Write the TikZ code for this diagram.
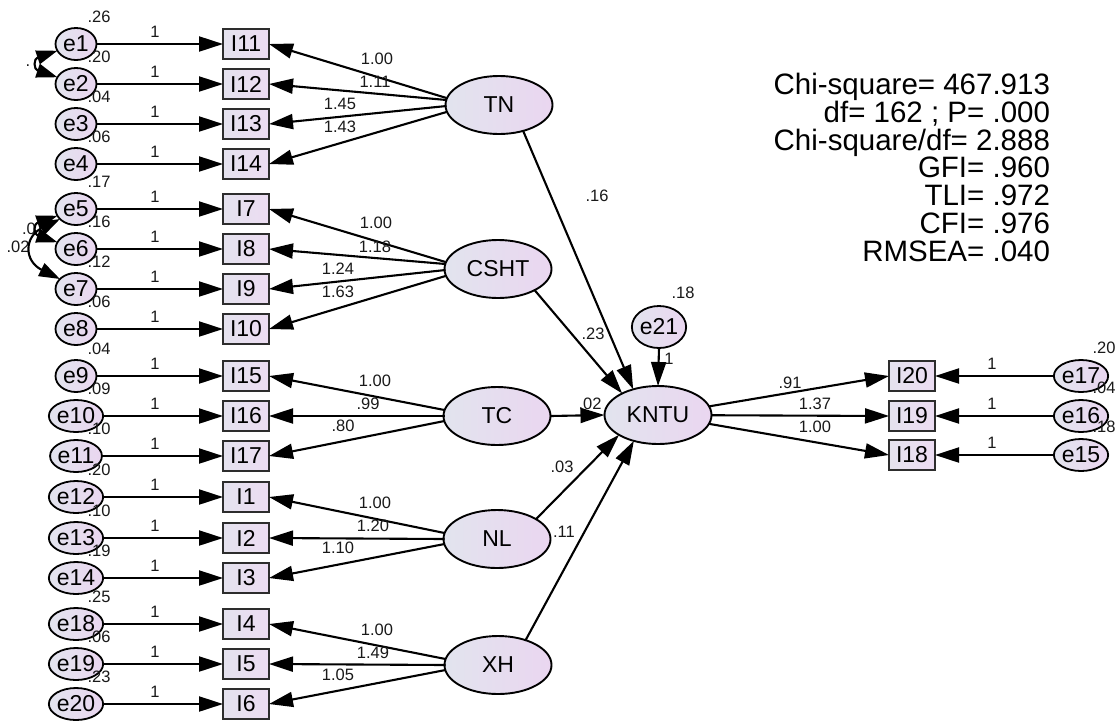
\documentclass[tikz,border=0pt]{standalone}
\usepackage{fontspec}
\setmainfont{Liberation Sans}
\usetikzlibrary{arrows.meta,calc,shapes.geometric}
\definecolor{fillL}{RGB}{226,228,238}
\definecolor{fillR}{RGB}{234,214,240}
\definecolor{boxL}{RGB}{228,226,238}
\definecolor{boxR}{RGB}{236,220,242}
\definecolor{boxline}{RGB}{45,45,45}
\definecolor{lbltext}{RGB}{25,25,25}
\begin{document}
\begin{tikzpicture}[x=1pt,y=-1pt,
  every node/.style={inner sep=0pt,outer sep=0pt},
  errv/.style={ellipse,draw=black,line width=1.8pt,minimum width=41pt,minimum height=32pt,
    left color=fillL,right color=fillR,font=\fontsize{23}{23}\selectfont},
  errbig/.style={errv,minimum width=53pt,minimum height=42pt},
  ind/.style={rectangle,draw=boxline,line width=1.9pt,minimum width=46pt,minimum height=30pt,
    left color=boxL,right color=boxR,font=\fontsize{23}{23}\selectfont},
  lat/.style={ellipse,draw=black,line width=1.9pt,minimum width=107pt,minimum height=58pt,
    left color=fillL,right color=fillR,font=\fontsize{23}{23}\selectfont},
  lbl/.style={font=\fontsize{16.5}{17}\selectfont,text=lbltext},
  stat/.style={font=\fontsize{29.5}{30}\selectfont,anchor=base east},
  arr/.style={-{Triangle[length=24pt,width=15pt]},line width=2.1pt},
  darr/.style={{Triangle[length=21pt,width=14pt]}-{Triangle[length=21pt,width=14pt]},line width=2.1pt}
]
\useasboundingbox (0,0) rectangle (1116,724);

% covariance labels (partly hidden)
\node[lbl] (c12) at (28,66) {.};
\node[lbl] (c56) at (29,229) {.0};
\node[lbl] (c57) at (18,247) {.02};

% left measurement rows
\foreach \e/\i/\y/\v in {e1/I11/44/.26, e2/I12/84/.20, e3/I13/124/.04, e4/I14/164/.06,
  e5/I7/209/.17, e6/I8/249/.16, e7/I9/289/.12, e8/I10/329/.06,
  e9/I15/376/.04, e10/I16/416/.09, e11/I17/456/.10,
  e12/I1/497/.20, e13/I2/538/.10, e14/I3/578/.19,
  e18/I4/624/.25, e19/I5/664/.06, e20/I6/704/.23}{
  \node[errv] (\e) at (76,\y) {\e};
  \node[ind] (\i) at (246,\y) {\i};
  \node[lbl] (v\e) at (99,{\y-27}) {\v};
  \node[lbl] (o\e) at (155,{\y-12}) {1};
  \draw[arr] (\e.east) -- (\i.west);
}

% covariances
\draw[darr] (e1.200) .. controls +(-24,8) and +(-24,-8) .. (e2.160);
\draw[darr] (e5.200) .. controls +(-24,8) and +(-24,-8) .. (e6.160);
\draw[darr] (e5.212) .. controls +(-36,18) and +(-36,-18) .. (e7.148);

% latent variables
\node[lat] (TN) at (499,105) {TN};
\node[lat] (CSHT) at (498,269) {CSHT};
\node[lat] (TC) at (497,416) {TC};
\node[lat] (NL) at (497,539) {NL};
\node[lat] (XH) at (498,665) {XH};
\node[lat] (KNTU) at (658,415) {KNTU};
\node[errbig] (e21) at (659,327) {e21};
\node[lbl] (ve21) at (683,293) {.18};

% loadings
\foreach \L/\i/\dy/\lx/\ly/\val in {
  TN/I11/-7/377/59/1.00, TN/I12/-5/375/82/1.11, TN/I13/1/340/104/1.45, TN/I14/7/340/127/1.43,
  CSHT/I7/-7/376/223/1.00, CSHT/I8/-5/375/247/1.18, CSHT/I9/1/338/269/1.24, CSHT/I10/7/338/292/1.63,
  TC/I15/-6/375/381/1.00, TC/I16/0/368/404/.99, TC/I17/5/343/426/.80,
  NL/I1/-6/375/503/1.00, NL/I2/0/373/526/1.20, NL/I3/5/338/548/1.10,
  XH/I4/-6/377/630/1.00, XH/I5/0/373/653/1.49, XH/I6/5/338/675/1.05}{
  \draw[arr] ($(\L.west)+(1,\dy)$) -- (\i.east);
  \node[lbl] at (\lx,\ly) {\val};
}

% structural paths
\draw[arr] (TN.-47) -- (KNTU.134);
\draw[arr] (CSHT.-30) -- (KNTU.149);
\draw[arr] (TC.east) -- (KNTU.west);
\draw[arr] (NL.27) -- (KNTU.-153);
\draw[arr] (XH.42) -- (KNTU.-133);
\draw[arr] (e21.south) -- (KNTU.north);
\node[lbl] (p1) at (597,196) {.16};
\node[lbl] (p2) at (593,334) {.23};
\node[lbl] (p3) at (590,404) {.02};
\node[lbl] (p4) at (562,467) {.03};
\node[lbl] (p5) at (564,532) {.11};
\node[lbl] (p6) at (669,359) {1};

% right measurement rows
\foreach \e/\i/\y/\v/\lx/\ly/\val in {e17/I20/376/.20/790/383/.91, e16/I19/416/.04/815/404/1.37, e15/I18/455/.18/815/427/1.00}{
  \node[ind] (\i) at (912,\y) {\i};
  \node[errv] (\e) at (1081,\y) {\e};
  \node[lbl] (v\e) at (1104,{\y-28}) {\v};
  \node[lbl] (o\e) at (992,{\y-12}) {1};
  \draw[arr] (\e.west) -- (\i.east);
  \draw[arr] (KNTU) -- (\i.west);
  \node[lbl] at (\lx,\ly) {\val};
}

% fit statistics
\node[stat] (s1) at (1050,94.5) {Chi-square= 467.913};
\node[stat] (s2) at (1050,122.3) {df= 162 ; P= .000};
\node[stat] (s3) at (1050,150.1) {Chi-square/df= 2.888};
\node[stat] (s4) at (1050,177.9) {GFI= .960};
\node[stat] (s5) at (1050,205.7) {TLI= .972};
\node[stat] (s6) at (1050,233.5) {CFI= .976};
\node[stat] (s7) at (1050,261.3) {RMSEA= .040};
\end{tikzpicture}
\end{document}
